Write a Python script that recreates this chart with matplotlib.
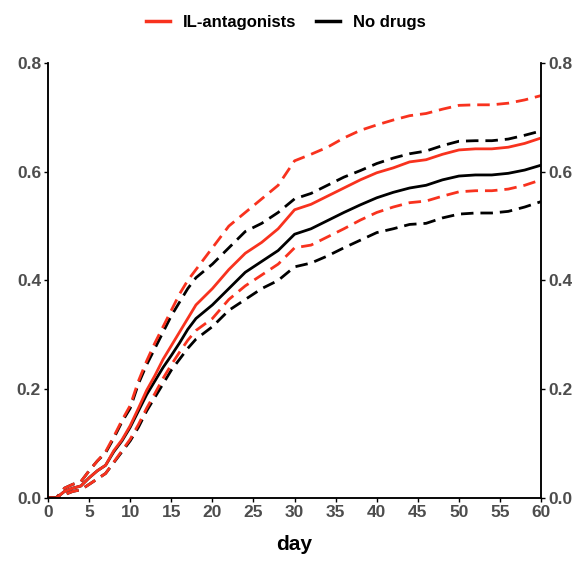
import matplotlib
matplotlib.use("Agg")
import matplotlib.pyplot as plt
from matplotlib.lines import Line2D

plt.rcParams["font.family"] = ["Liberation Sans", "DejaVu Sans"]

# days at which the cumulative incidence curves were read
days = [0, 1, 2, 3, 4, 5, 6, 7, 8, 9, 10, 11, 12, 13, 14, 15, 16, 17, 18, 20,
        22, 24, 26, 28, 30, 32, 34, 36, 38, 40, 42, 44, 46, 48, 50, 52, 54, 56, 58, 60]

# No drugs: estimate and confidence band
nd_est = [0, 0, 0.012, 0.018, 0.022, 0.037, 0.05, 0.06, 0.085, 0.105, 0.13, 0.16, 0.19, 0.215,
          0.24, 0.262, 0.285, 0.31, 0.33, 0.355, 0.385, 0.415, 0.435, 0.455, 0.485, 0.495,
          0.51, 0.525, 0.539, 0.552, 0.562, 0.57, 0.575, 0.585, 0.592, 0.594, 0.594, 0.597,
          0.603, 0.612]
nd_hi = [0, 0, 0.018, 0.025, 0.03, 0.05, 0.068, 0.083, 0.11, 0.14, 0.165, 0.21, 0.245, 0.275,
         0.305, 0.335, 0.36, 0.385, 0.405, 0.43, 0.46, 0.49, 0.505, 0.525, 0.55, 0.56, 0.575,
         0.59, 0.602, 0.615, 0.625, 0.633, 0.638, 0.648, 0.656, 0.657, 0.657, 0.66, 0.667, 0.675]
nd_lo = [0, 0, 0.006, 0.012, 0.015, 0.025, 0.035, 0.045, 0.065, 0.085, 0.105, 0.13, 0.16, 0.185,
         0.21, 0.235, 0.255, 0.275, 0.292, 0.315, 0.345, 0.365, 0.385, 0.4, 0.425, 0.432, 0.445,
         0.46, 0.474, 0.488, 0.495, 0.503, 0.505, 0.515, 0.522, 0.524, 0.524, 0.527, 0.535, 0.545]

# IL-antagonists: estimate and confidence band
il_est = [0, 0, 0.012, 0.018, 0.022, 0.037, 0.05, 0.06, 0.087, 0.107, 0.133, 0.165, 0.198, 0.225,
          0.255, 0.28, 0.305, 0.33, 0.355, 0.385, 0.42, 0.45, 0.47, 0.495, 0.53, 0.54, 0.555,
          0.57, 0.585, 0.598, 0.607, 0.618, 0.622, 0.632, 0.64, 0.642, 0.642, 0.645, 0.652, 0.662]
il_hi = [0, 0, 0.018, 0.025, 0.03, 0.05, 0.068, 0.085, 0.113, 0.143, 0.17, 0.215, 0.252, 0.285,
         0.315, 0.345, 0.375, 0.4, 0.42, 0.46, 0.5, 0.525, 0.55, 0.575, 0.62, 0.632, 0.645,
         0.662, 0.676, 0.686, 0.695, 0.703, 0.707, 0.715, 0.722, 0.723, 0.723, 0.726, 0.732, 0.74]
il_lo = [0, 0, 0.006, 0.012, 0.015, 0.025, 0.035, 0.045, 0.066, 0.087, 0.108, 0.135, 0.165, 0.192,
         0.22, 0.245, 0.268, 0.29, 0.308, 0.33, 0.365, 0.39, 0.41, 0.43, 0.46, 0.465, 0.48,
         0.495, 0.511, 0.525, 0.535, 0.543, 0.546, 0.555, 0.563, 0.565, 0.565, 0.568, 0.575, 0.585]

x_ticks = [0, 5, 10, 15, 20, 25, 30, 35, 40, 45, 50, 55, 60]
y_ticks = [0.0, 0.2, 0.4, 0.6, 0.8]

red = "#f8321e"
grey = "#4d4d4d"

fig = plt.figure(figsize=(5.72, 5.62), dpi=100)
ax = fig.add_axes([0.084, 0.114, 0.862, 0.774])

lw = 2.0
dash = (4.5, 2.5)
ax.plot(days, nd_hi, color="black", lw=lw, dashes=dash)
ax.plot(days, nd_lo, color="black", lw=lw, dashes=dash)
ax.plot(days, il_hi, color=red, lw=lw, dashes=dash)
ax.plot(days, il_lo, color=red, lw=lw, dashes=dash)
ax.plot(days, nd_est, color="black", lw=lw)
ax.plot(days, il_est, color=red, lw=lw)

ax.set_xlim(0, 60)
ax.set_ylim(0, 0.8)
ax.set_xticks(x_ticks)
ax.set_yticks(y_ticks)
ax.set_yticklabels(["%.1f" % v for v in y_ticks])

ax2 = ax.twinx()
ax2.set_ylim(0, 0.8)
ax2.set_yticks(y_ticks)
ax2.set_yticklabels(["%.1f" % v for v in y_ticks])

for a in (ax, ax2):
    a.spines["top"].set_visible(False)
    for s in ("left", "right", "bottom"):
        a.spines[s].set_linewidth(1.1)
    a.tick_params(length=3, width=1, pad=2, colors="black", labelcolor=grey, labelsize=12.5)
    for lab in a.get_xticklabels() + a.get_yticklabels():
        lab.set_fontweight("bold")

ax.set_xlabel("day", fontsize=15, fontweight="bold", labelpad=11)

handles = [Line2D([], [], color=red, lw=2.5), Line2D([], [], color="black", lw=2.5)]
fig.legend(handles, ["IL-antagonists", "No drugs"], loc="center", bbox_to_anchor=(0.5, 0.96),
           ncol=2, frameon=False, handlelength=1.4, columnspacing=1.2,
           prop={"weight": "bold", "size": 12})

fig.savefig("out.png", dpi=100)
